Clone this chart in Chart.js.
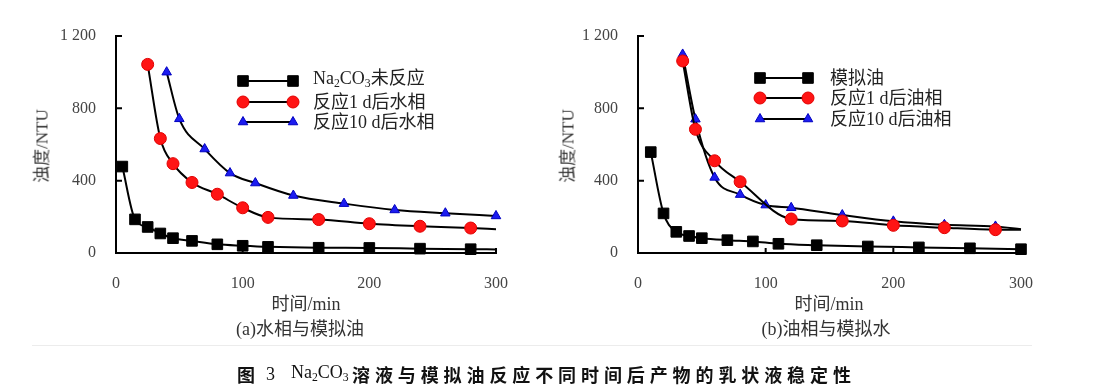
<!DOCTYPE html>
<html><head><meta charset="utf-8">
<script src="https://cdn.jsdelivr.net/npm/chart.js@4/dist/chart.umd.min.js"></script>
<style>
html,body{margin:0;padding:0;background:#fff;}
body{width:1101px;height:390px;position:relative;overflow:hidden;}
canvas{position:absolute;top:0;}
.t{position:absolute;white-space:nowrap;color:#333;font-family:"Liberation Serif","Noto Sans CJK SC",serif;}
.ytitle{font-size:17px;transform:translate(-50%,-50%) rotate(-90deg);}
.xt{font-size:18px;transform:translateX(-50%);}
.leg{font-size:18px;line-height:20px;transform:translateY(-50%);color:#222;}
sub{font-size:0.65em;vertical-align:-0.25em;}
.sep{position:absolute;left:32px;top:345px;width:1000px;height:1px;background:#ececec;}
.cap{position:absolute;top:361px;font-size:18px;color:#111;white-space:nowrap;}
</style></head>
<body>
<canvas id="c1" width="550" height="300" style="left:0"></canvas>
<canvas id="c2" width="551" height="300" style="left:550px"></canvas>

<div class="t ytitle" style="left:40px;top:146px">浊度/NTU</div>
<div class="t ytitle" style="left:566px;top:146px">浊度/NTU</div>
<div class="t xt" style="left:306px;top:289px">时间/min</div>
<div class="t xt" style="left:300px;top:314px">(a)水相与模拟油</div>
<div class="t xt" style="left:829px;top:289px">时间/min</div>
<div class="t xt" style="left:826px;top:314px">(b)油相与模拟水</div>

<div class="t leg" style="left:313px;top:81px">Na<sub>2</sub>CO<sub>3</sub>未反应</div>
<div class="t leg" style="left:313px;top:102px">反应1 d后水相</div>
<div class="t leg" style="left:313px;top:122px">反应10 d后水相</div>
<div class="t leg" style="left:830px;top:78px">模拟油</div>
<div class="t leg" style="left:830px;top:98px">反应1 d后油相</div>
<div class="t leg" style="left:830px;top:119px">反应10 d后油相</div>

<div class="sep"></div>
<div class="cap" style="left:237px;font-family:'Noto Sans CJK SC';font-weight:bold">图</div>
<div class="cap" style="left:266px;top:364px;font-family:'Liberation Serif'">3</div>
<div class="cap" style="left:291px;top:362px;font-family:'Liberation Serif'">Na<sub>2</sub>CO<sub>3</sub></div>
<div class="cap" style="left:352px;font-family:'Noto Sans CJK SC';font-weight:bold;letter-spacing:4.9px">溶液与模拟油反应不同时间后产物的乳状液稳定性</div>

<script>
// ---------- Data: chart (a) 水相与模拟油 ----------
const aBlackX = [5, 15, 25, 35, 45, 60, 80, 100, 120, 160, 200, 240, 280, 300];
const aBlackY = [478, 186, 144, 108, 82, 67, 48, 40, 34, 29, 28, 24, 21, 20];
const aRedX   = [25, 35, 45, 60, 80, 100, 120, 160, 200, 240, 280, 300];
const aRedY   = [1043, 633, 494, 390, 325, 250, 197, 185, 162, 148, 138, 132];
const aBlueX  = [40, 50, 70, 90, 110, 140, 180, 220, 260, 300];
const aBlueY  = [1000, 742, 575, 442, 387, 318, 273, 238, 220, 205];

// ---------- Data: chart (b) 油相与模拟水 ----------
const bBlackX = [10, 20, 30, 40, 50, 70, 90, 110, 140, 180, 220, 260, 300];
const bBlackY = [558, 219, 117, 94, 82, 71, 64, 51, 43, 36, 31, 26, 21];
const bRedX   = [35, 45, 60, 80, 120, 160, 200, 240, 280, 300];
const bRedY   = [1062, 684, 510, 394, 188, 177, 153, 140, 129, 128];
const bBlueX  = [35, 45, 60, 80, 100, 120, 160, 200, 240, 280, 300];
const bBlueY  = [1098, 740, 418, 323, 265, 250, 210, 175, 156, 147, 132];

const xTicks = [0, 100, 200, 300];
const yTicks = [0, 400, 800, 1200];
const yTickLabels = ['0', '400', '800', '1 200'];

const legendA = ['Na2CO3未反应', '反应1 d后水相', '反应10 d后水相'];
const legendB = ['模拟油', '反应1 d后油相', '反应10 d后油相'];

// ---------- styles ----------
const STY = {
  black: {pointStyle: 'rect', r: 7.5, fill: '#000', stroke: '#000'},
  red:   {pointStyle: 'circle', r: 6, fill: '#ff1414', stroke: '#e00000'},
  blue:  {pointStyle: 'triangle', r: 5.5, fill: '#1c1cf0', stroke: '#0000c0'}
};
const pairs = (xs, ys) => xs.map((x, i) => ({x, y: ys[i]}));

function ds(label, xs, ys, sty, openEnd) {
  return {
    label, data: pairs(xs, ys),
    borderColor: '#000', borderWidth: 2,
    backgroundColor: sty.fill,
    pointStyle: sty.pointStyle,
    pointBackgroundColor: sty.fill,
    pointBorderColor: sty.stroke,
    pointBorderWidth: 1,
    pointRadius: (c) => (openEnd && c.dataIndex === xs.length - 1) ? 0 : sty.r,
    pointHoverRadius: (c) => (openEnd && c.dataIndex === xs.length - 1) ? 0 : sty.r,
    cubicInterpolationMode: 'monotone',
    fill: false, clip: false, _sty: sty
  };
}

const tickFont = {family: "'Liberation Serif', serif", size: 16};

// inward ticks drawn from the library's scales
const inwardTicks = {
  id: 'inwardTicks',
  afterDraw(chart) {
    const {ctx, chartArea: a, scales: {x, y}} = chart;
    ctx.save();
    ctx.strokeStyle = '#000'; ctx.lineWidth = 2;
    ctx.beginPath();
    xTicks.forEach(v => { if (v > 0) { const px = x.getPixelForValue(v); ctx.moveTo(px, a.bottom); ctx.lineTo(px, a.bottom - 5); } });
    yTicks.forEach(v => { if (v > 0) { const py = y.getPixelForValue(v); ctx.moveTo(a.left, py); ctx.lineTo(a.left + 6, py); } });
    ctx.stroke();
    ctx.restore();
  }
};

// legend samples: line with a marker at both ends
function legendSamples(x1, x2, rows) {
  return {
    id: 'legendSamples',
    afterDraw(chart) {
      const ctx = chart.ctx;
      chart.data.datasets.forEach((d, i) => {
        const yy = rows[i], s = d._sty;
        ctx.save();
        ctx.strokeStyle = '#000'; ctx.lineWidth = 2;
        ctx.beginPath(); ctx.moveTo(x1, yy); ctx.lineTo(x2, yy); ctx.stroke();
        ctx.fillStyle = s.fill; ctx.strokeStyle = s.stroke; ctx.lineWidth = 1;
        [x1, x2].forEach(px => Chart.helpers.drawPoint(ctx, {pointStyle: s.pointStyle, radius: s.r, rotation: 0, borderWidth: 1}, px, yy));
        ctx.restore();
      });
    }
  };
}

function makeChart(id, datasets, yWidth, rightPad, legend) {
  return new Chart(document.getElementById(id), {
    type: 'line',
    data: {datasets},
    options: {
      responsive: false, animation: false, events: [],
      layout: {padding: {left: 0, top: 36, right: rightPad, bottom: 0}},
      plugins: {legend: {display: false}, tooltip: {enabled: false}},
      scales: {
        x: {
          type: 'linear', min: 0, max: 300,
          afterBuildTicks: (s) => { s.ticks = xTicks.map(v => ({value: v})); },
          ticks: {font: tickFont, color: '#444', padding: 21, maxRotation: 0},
          grid: {display: false, drawTicks: false},
          border: {display: true, color: '#000', width: 2},
          afterFit: (s) => { s.height = 47; }
        },
        y: {
          type: 'linear', min: 0, max: 1200,
          afterBuildTicks: (s) => { s.ticks = yTicks.map(v => ({value: v})); },
          ticks: {font: tickFont, color: '#444', padding: 20,
                  callback: (v) => yTickLabels[yTicks.indexOf(v)]},
          grid: {display: false, drawTicks: false},
          border: {display: true, color: '#000', width: 2},
          afterFit: (s) => { s.width = yWidth; }
        }
      }
    },
    plugins: [inwardTicks, legend]
  });
}

makeChart('c1', [
  ds(legendA[0], aBlackX, aBlackY, STY.black, true),
  ds(legendA[1], aRedX, aRedY, STY.red, true),
  ds(legendA[2], aBlueX, aBlueY, STY.blue, false)
], 116, 54, legendSamples(243, 293, [81, 102, 122]));

makeChart('c2', [
  ds(legendB[0], bBlackX, bBlackY, STY.black, false),
  ds(legendB[1], bRedX, bRedY, STY.red, true),
  ds(legendB[2], bBlueX, bBlueY, STY.blue, true)
], 88, 80, legendSamples(210, 258, [78, 98, 119]));
</script>
</body></html>
